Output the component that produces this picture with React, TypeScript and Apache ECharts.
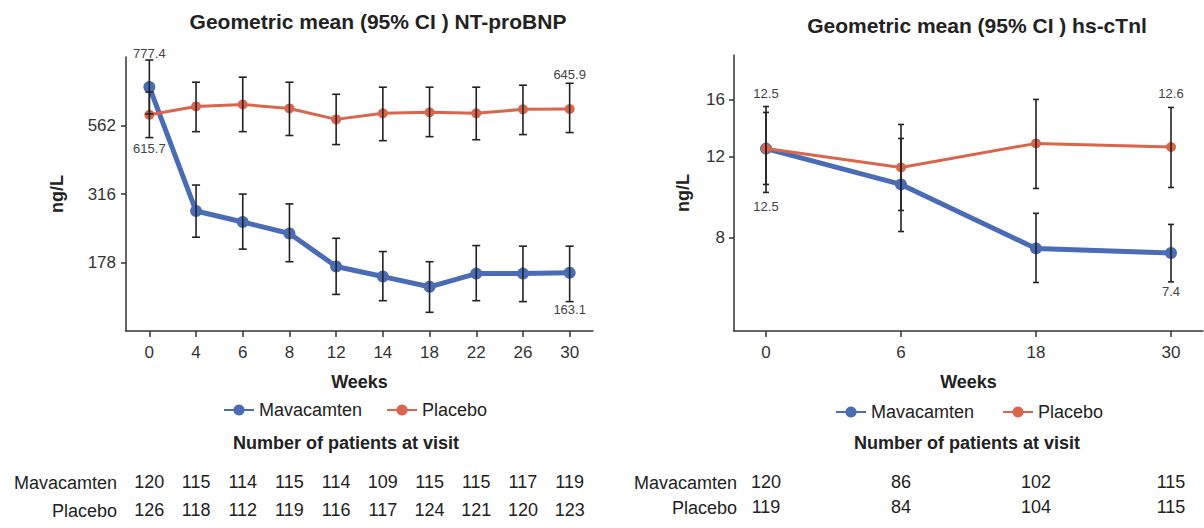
import React, { useEffect, useRef } from "react";
import * as echarts from "echarts";

// ---------- NT-proBNP (left panel) ----------
const bnpWeeks = ["0", "4", "6", "8", "12", "14", "18", "22", "26", "30"];
const bnpMava = [777.4, 274, 250, 227, 172, 158, 145, 162, 162, 163.1];
const bnpMavaLow = [620, 220, 199, 179, 136, 129, 117, 129, 128, 128];
const bnpMavaHigh = [975, 341, 316, 291, 218, 195, 179, 205, 204, 204];
const bnpPlacebo = [615.7, 660, 671, 649, 592, 623, 628, 623, 644, 645.9];
const bnpPlaceboLow = [508, 534, 534, 517, 479, 495, 512, 499, 521, 530];
const bnpPlaceboHigh = [745, 809, 844, 809, 731, 776, 776, 776, 789, 802];
const bnpTicks = [178, 316, 562];
const bnpRange = [100, 1000];
const bnpCountMava = [120, 115, 114, 115, 114, 109, 115, 115, 117, 119];
const bnpCountPlacebo = [126, 118, 112, 119, 116, 117, 124, 121, 120, 123];

// ---------- hs-cTnI (right panel) ----------
const tnWeeks = ["0", "6", "18", "30"];
const tnMava = [12.5, 10.44, 7.57, 7.4];
const tnMavaLow = [10.03, 8.24, 6.38, 6.4];
const tnMavaHigh = [15.44, 13.15, 9.03, 8.54];
const tnPlacebo = [12.5, 11.37, 12.83, 12.6];
const tnPlaceboLow = [10.44, 9.16, 10.23, 10.28];
const tnPlaceboHigh = [14.99, 14.11, 16.0, 15.37];
const tnTicks = [8, 12, 16];
const tnRange = [5, 20];
const tnCountMava = [120, 86, 102, 115];
const tnCountPlacebo = [119, 84, 104, 115];

const seriesNames = ["Mavacamten", "Placebo"];

// ---------- styles ----------
const FONT = '"Liberation Sans", Arial, Helvetica, sans-serif';
const BLUE = "#4a6cb4";
const ORANGE = "#d9654d";
const AXIS = "#333333";
const TEXT = "#222222";

const lg = (v: number) => Math.log10(v);

const axisLineStyle = { show: true, onZero: false, lineStyle: { color: AXIS, width: 1.5 } };
const axisTickStyle = { show: true, length: 6, lineStyle: { color: AXIS, width: 1.5 } };
const tickLabelStyle = { color: "#333", fontSize: 17, fontFamily: FONT };
const boldName = { color: TEXT, fontSize: 18, fontWeight: "bold" as const, fontFamily: FONT };

type LabelSpec = { [idx: number]: ["top" | "bottom", number] };

function pointItems(values: number[], labels: LabelSpec, withIndex: boolean) {
  return values.map((v, i) => {
    const value = withIndex ? [i, lg(v)] : lg(v);
    const spec = labels[i];
    if (!spec) return { value };
    return {
      value,
      label: {
        show: true,
        position: spec[0],
        distance: spec[1],
        formatter: () => v.toFixed(1),
        color: "#444",
        fontSize: 13,
        fontFamily: FONT,
      },
    };
  });
}

function errorItems(lows: number[], highs: number[]) {
  return lows.map((lo, i) => [i, lg(lo), lg(highs[i])]);
}

function errorSeries(data: number[][], xAxisIndex: number, yAxisIndex: number, capHalf: number) {
  return {
    type: "custom",
    xAxisIndex,
    yAxisIndex,
    z: 10,
    silent: true,
    encode: { x: 0, y: [1, 2] },
    data,
    renderItem: (_params: any, api: any) => {
      const x = api.value(0);
      const lo = api.coord([x, api.value(1)]);
      const hi = api.coord([x, api.value(2)]);
      const style = { stroke: "#222", lineWidth: 1.6 };
      return {
        type: "group",
        children: [
          { type: "line", shape: { x1: lo[0], y1: lo[1], x2: hi[0], y2: hi[1] }, style },
          { type: "line", shape: { x1: lo[0] - capHalf, y1: lo[1], x2: lo[0] + capHalf, y2: lo[1] }, style },
          { type: "line", shape: { x1: hi[0] - capHalf, y1: hi[1], x2: hi[0] + capHalf, y2: hi[1] }, style },
        ],
      };
    },
  };
}

function lineSeries(
  name: string,
  color: string,
  width: number,
  size: number,
  xAxisIndex: number,
  yAxisIndex: number,
  data: any[],
  z: number
) {
  return {
    name,
    type: "line",
    xAxisIndex,
    yAxisIndex,
    data,
    z,
    symbol: "circle",
    symbolSize: size,
    showSymbol: true,
    color,
    itemStyle: { color },
    lineStyle: { color, width },
    emphasis: { disabled: true },
  };
}

function countAxis(gridIndex: number, counts: number[], offset: number, isCategory: boolean) {
  const base: any = {
    gridIndex,
    position: "bottom",
    offset,
    axisLine: { show: false, onZero: false },
    axisTick: { show: false },
    splitLine: { show: false },
    axisLabel: {
      color: TEXT,
      fontSize: 18,
      fontFamily: FONT,
      margin: 0,
      interval: 0,
    },
  };
  if (isCategory) {
    return { ...base, type: "category", boundaryGap: true, data: counts.map(String) };
  }
  return {
    ...base,
    type: "value",
    min: -0.237,
    max: counts.length - 1 + 0.237,
    axisLabel: {
      ...base.axisLabel,
      customValues: counts.map((_, i) => i),
      formatter: (v: number) => String(counts[Math.round(v)] ?? ""),
    },
  };
}

function txt(text: string, x: number, y: number, font: string, align: string) {
  return {
    type: "text",
    x,
    y,
    style: {
      text,
      font,
      fill: TEXT,
      align,
      verticalAlign: "middle",
      textAlign: align,
      textVerticalAlign: "middle",
    },
  };
}

function buildOption() {
  const tnIdx = tnWeeks.map((_, i) => i);
  return {
    animation: false,
    backgroundColor: "#ffffff",
    textStyle: { fontFamily: FONT },
    grid: [
      { left: 126, top: 57, width: 467, height: 274, containLabel: false, outerBoundsMode: "none" },
      { left: 734, top: 55, width: 469, height: 276, containLabel: false, outerBoundsMode: "none" },
    ],
    legend: [
      {
        left: 218,
        top: 396,
        orient: "horizontal",
        data: seriesNames,
        itemWidth: 30,
        itemHeight: 14,
        itemGap: 24,
        textStyle: { color: TEXT, fontSize: 18, fontFamily: FONT },
        selectedMode: false,
      },
      {
        left: 830,
        top: 398,
        orient: "horizontal",
        data: seriesNames,
        itemWidth: 30,
        itemHeight: 14,
        itemGap: 28,
        textStyle: { color: TEXT, fontSize: 18, fontFamily: FONT },
        selectedMode: false,
      },
    ],
    xAxis: [
      {
        type: "category",
        gridIndex: 0,
        data: bnpWeeks,
        boundaryGap: true,
        axisLine: axisLineStyle,
        axisTick: { ...axisTickStyle, alignWithLabel: true },
        axisLabel: { ...tickLabelStyle, margin: 13, interval: 0 },
        splitLine: { show: false },
        name: "Weeks",
        nameLocation: "middle",
        nameGap: 42,
        nameTextStyle: boldName,
      },
      {
        type: "value",
        gridIndex: 1,
        min: -0.237,
        max: tnWeeks.length - 1 + 0.237,
        axisLine: axisLineStyle,
        axisTick: { ...axisTickStyle, customValues: tnIdx },
        axisLabel: {
          ...tickLabelStyle,
          margin: 13,
          customValues: tnIdx,
          formatter: (v: number) => tnWeeks[Math.round(v)] ?? "",
        },
        splitLine: { show: false },
        name: "Weeks",
        nameLocation: "middle",
        nameGap: 42,
        nameTextStyle: boldName,
      },
      countAxis(0, bnpCountMava, 142, true),
      countAxis(0, bnpCountPlacebo, 170, true),
      countAxis(1, tnCountMava, 142, false),
      countAxis(1, tnCountPlacebo, 167, false),
    ],
    yAxis: [
      {
        type: "value",
        gridIndex: 0,
        min: lg(bnpRange[0]),
        max: lg(bnpRange[1]),
        axisLine: axisLineStyle,
        axisTick: { ...axisTickStyle, length: 5, customValues: bnpTicks.map(lg) },
        axisLabel: {
          ...tickLabelStyle,
          margin: 10,
          customValues: bnpTicks.map(lg),
          formatter: (v: number) => String(Math.round(Math.pow(10, v))),
        },
        splitLine: { show: false },
        name: "ng/L",
        nameLocation: "middle",
        nameGap: 60,
        nameTextStyle: boldName,
      },
      {
        type: "value",
        gridIndex: 1,
        min: lg(tnRange[0]),
        max: lg(tnRange[1]),
        axisLine: axisLineStyle,
        axisTick: { ...axisTickStyle, length: 5, customValues: tnTicks.map(lg) },
        axisLabel: {
          ...tickLabelStyle,
          margin: 9,
          customValues: tnTicks.map(lg),
          formatter: (v: number) => String(Math.round(Math.pow(10, v))),
        },
        splitLine: { show: false },
        name: "ng/L",
        nameLocation: "middle",
        nameGap: 42,
        nameTextStyle: boldName,
      },
    ],
    series: [
      lineSeries(seriesNames[0], BLUE, 5, 12, 0, 0, pointItems(bnpMava, { 0: ["top", 21], 9: ["bottom", 24] }, false), 2),
      lineSeries(seriesNames[1], ORANGE, 3, 10, 0, 0, pointItems(bnpPlacebo, { 0: ["bottom", 22], 9: ["top", 23] }, false), 3),
      errorSeries(errorItems(bnpMavaLow, bnpMavaHigh), 0, 0, 4),
      errorSeries(errorItems(bnpPlaceboLow, bnpPlaceboHigh), 0, 0, 4),
      lineSeries(seriesNames[0], BLUE, 5, 12, 1, 1, pointItems(tnMava, { 0: ["bottom", 45], 3: ["bottom", 26] }, true), 2),
      lineSeries(seriesNames[1], ORANGE, 3, 10, 1, 1, pointItems(tnPlacebo, { 0: ["top", 44], 3: ["top", 42] }, true), 3),
      errorSeries(errorItems(tnMavaLow, tnMavaHigh), 1, 1, 3),
      errorSeries(errorItems(tnPlaceboLow, tnPlaceboHigh), 1, 1, 3),
    ],
    graphic: [
      txt("Geometric mean (95% CI ) NT-proBNP", 378, 21, `bold 21px ${FONT}`, "center"),
      txt("Geometric mean (95% CI ) hs-cTnl", 977, 25, `bold 21px ${FONT}`, "center"),
      txt("Number of patients at visit", 346, 443, `bold 18px ${FONT}`, "center"),
      txt("Number of patients at visit", 967, 443, `bold 18px ${FONT}`, "center"),
      txt(seriesNames[0], 117, 483, `18px ${FONT}`, "right"),
      txt(seriesNames[1], 117, 511, `18px ${FONT}`, "right"),
      txt(seriesNames[0], 737, 483, `18px ${FONT}`, "right"),
      txt(seriesNames[1], 737, 508, `18px ${FONT}`, "right"),
    ],
  };
}

export default function App() {
  const ref = useRef<HTMLDivElement>(null);
  useEffect(() => {
    if (!ref.current) return;
    const chart = echarts.init(ref.current, null, { renderer: "svg" });
    chart.setOption(buildOption() as any);
    return () => {
      chart.dispose();
    };
  }, []);
  return (
    <div
      ref={ref}
      style={{ position: "absolute", left: 0, top: 0, width: 1204, height: 528, background: "#fff" }}
    />
  );
}
